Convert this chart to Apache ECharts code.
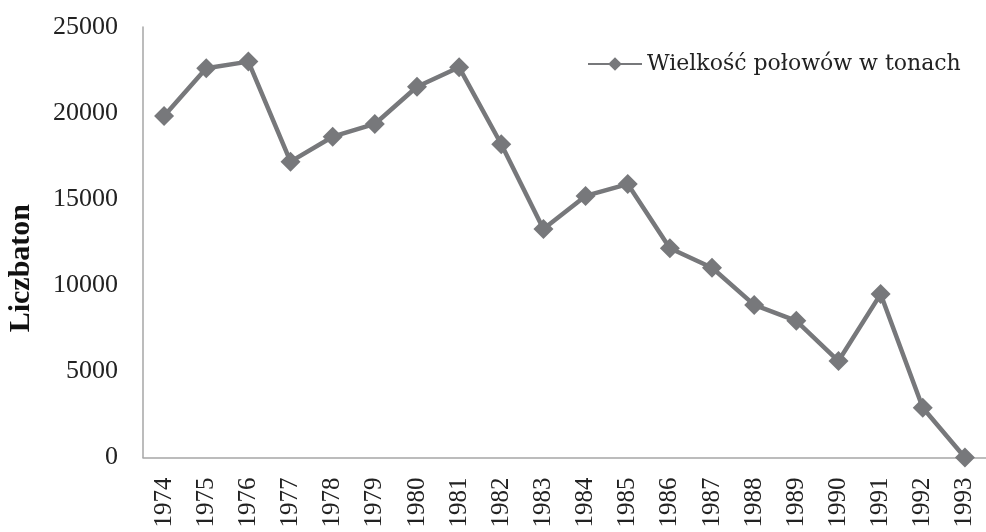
<!DOCTYPE html>
<html>
<head>
<meta charset="utf-8">
<script src="https://cdn.jsdelivr.net/npm/echarts@6/dist/echarts.min.js"></script>
<style>
  html,body{margin:0;padding:0;background:#fff;}
  #c{width:986px;height:532px;}
</style>
</head>
<body>
<div id="c"></div>
<script>
var lata = ['1974','1975','1976','1977','1978','1979','1980','1981','1982','1983',
            '1984','1985','1986','1987','1988','1989','1990','1991','1992','1993'];
var polowy = [19830, 22600, 22990, 17180, 18630, 19370, 21530, 22660, 18190, 13270,
              15190, 15880, 12150, 11020, 8860, 7940, 5600, 9490, 2890, 0];
var nazwaSerii = 'Wielkość połowów w tonach';

var myChart = echarts.init(document.getElementById('c'));
var szary = '#77787b';
option = {
  animation: false,
  grid: { left: 143, right: -7, top: 27, bottom: 74.5 },
  legend: {
    data: [nazwaSerii],
    left: 582, top: 48,
    itemWidth: 54, itemHeight: 17, itemGap: 2,
    textStyle: { fontFamily: 'DejaVu Serif', fontSize: 22, color: '#222' }
  },
  xAxis: {
    type: 'category',
    data: lata,
    axisLine: { lineStyle: { color: '#a6a6a6', width: 1.5 } },
    axisTick: { show: false },
    axisLabel: { rotate: 90, margin: 20, fontFamily: 'Liberation Serif', fontSize: 25, color: '#222' }
  },
  yAxis: {
    type: 'value',
    min: 0, max: 25000, interval: 5000,
    splitLine: { show: false },
    axisLine: { show: true, lineStyle: { color: '#a6a6a6', width: 1.5 } },
    axisLabel: {
      margin: 25, fontFamily: 'Liberation Serif', fontSize: 26, color: '#222',
      formatter: function (v) { return String(v); }
    }
  },
  graphic: [{
    type: 'text',
    left: 6, top: 204,
    rotation: Math.PI / 2,
    style: { text: 'Liczbaton', fontFamily: 'Liberation Serif', fontWeight: 'bold', fontSize: 30, fill: '#111' }
  }],
  series: [{
    name: nazwaSerii,
    type: 'line',
    data: polowy,
    symbol: 'diamond',
    symbolSize: 20,
    itemStyle: { color: szary },
    lineStyle: { color: szary, width: 4.5 }
  }]
};
option && myChart.setOption(option);
</script>
</body>
</html>
